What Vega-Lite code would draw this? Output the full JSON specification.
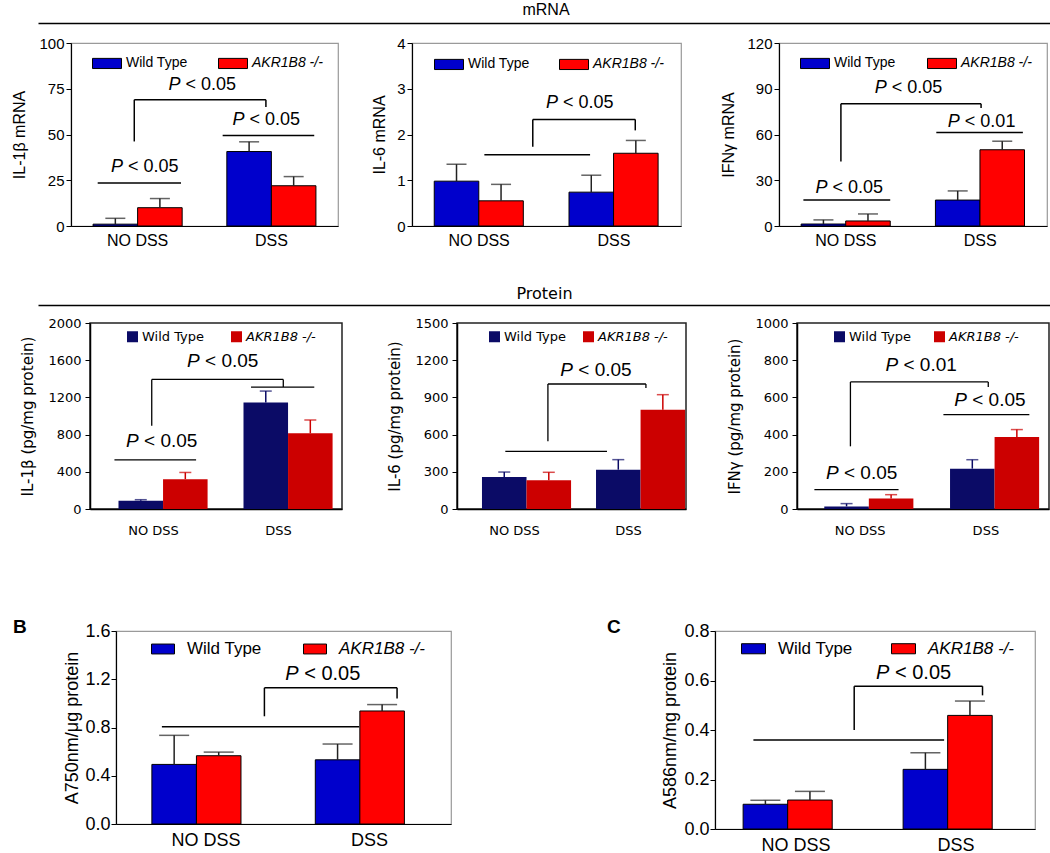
{
"$schema": "https://vega.github.io/schema/vega-lite/v6.json",
"padding": 0,
"background": "white",
"config": {
  "font": "Liberation Sans",
  "axis": {"grid": false, "labelColor": "#000", "titleColor": "#000", "tickColor": "#000", "domainColor": "#000", "titleFontWeight": "normal", "labelOverlap": false},
  "legend": {"padding": 0}
},
"spacing": 0,
"bounds": "flush",
"resolve": {"scale": {"color": "independent"}, "legend": {"color": "independent"}},
"vconcat": [
 {"width": 1, "height": 23, "data": {"values": [{"a": 0}]}, "mark": {"type": "point", "opacity": 0}, "view": {"stroke": null}},
 {"spacing": 0, "bounds": "flush", "hconcat": [
   {"width": 35, "height": 1, "data": {"values": [{"a": 0}]}, "mark": {"type": "point", "opacity": 0}, "view": {"stroke": null}},
   {"width": 1015, "height": 1, "data": {"values": [{"u": 0}]}, "mark": {"type": "point", "opacity": 0}, "view": {"stroke": null},
    "encoding": {"x": {"field": "u", "type": "quantitative", "scale": {"domain": [0, 1]}, "axis": {"orient": "top", "ticks": false, "labels": false, "domainWidth": 1.5, "title": "mRNA", "titleFont": "Liberation Sans", "titleFontSize": 16, "titlePadding": 6}}}}
 ]},
 {"width": 1, "height": 20, "data": {"values": [{"a": 0}]}, "mark": {"type": "point", "opacity": 0}, "view": {"stroke": null}},
 {"spacing": 0, "bounds": "flush",
  "resolve": {"scale": {"color": "independent"}, "legend": {"color": "independent"}},
  "hconcat": [
   {"width": 68, "height": 183, "data": {"values": [{"a": 0}]}, "mark": {"type": "point", "opacity": 0}, "view": {"stroke": null}},
   {"width": 267, "height": 183, "view": {"stroke": "#9a9a9a", "strokeWidth": 1.2},
    "layer": [
     {"data": {"values": [
       {"g": "NO DSS", "s": "Wild Type", "v": 1, "hi": 4.2},
       {"g": "NO DSS", "s": "AKR1B8 -/-", "v": 10, "hi": 15},
       {"g": "DSS", "s": "Wild Type", "v": 40.7, "hi": 46},
       {"g": "DSS", "s": "AKR1B8 -/-", "v": 22, "hi": 27}]},
      "encoding": {
       "x": {"field": "g", "type": "nominal", "scale": {"domain": ["NO DSS", "DSS"], "paddingInner": 0.334, "paddingOuter": 0.165}, "axis": {"title": null, "labelAngle": 0, "ticks": false, "domainWidth": 1.2, "labelFont": "Liberation Sans", "labelFontSize": 16, "labelPadding": 6}},
       "xOffset": {"field": "s", "type": "nominal", "scale": {"domain": ["Wild Type", "AKR1B8 -/-"], "paddingInner": 0, "paddingOuter": 0}}},
      "layer": [
       {"mark": {"type": "bar", "stroke": "#000", "strokeWidth": 1},
        "encoding": {
         "y": {"field": "v", "type": "quantitative", "scale": {"domain": [0, 100], "nice": false}, "axis": {"title": "IL-1β mRNA", "values": [0, 25, 50, 75, 100], "tickCount": 10, "format": "d", "domainWidth": 1.2, "tickSize": 5, "labelFont": "Liberation Sans", "labelFontSize": 15, "labelPadding": 2, "titleFont": "Liberation Sans", "titleFontSize": 16, "titlePadding": 11}},
         "color": {"field": "s", "type": "nominal", "scale": {"domain": ["Wild Type", "AKR1B8 -/-"], "range": ["#0000CC", "#FF0000"]},
          "legend": {"title": null, "orient": "none", "legendX": 21, "legendY": 5, "direction": "horizontal", "symbolType": "M-1,-0.35H1V0.35H-1Z", "symbolSize": 841, "symbolStrokeColor": "#000", "symbolStrokeWidth": 1, "labelFont": "Liberation Sans", "labelFontSize": 14, "labelColor": "#000", "labelOffset": 4, "columnPadding": 28, "padding": 0, "encode": {"labels": {"update": {"fontStyle": {"signal": "datum.label === 'AKR1B8 -/-' ? 'italic' : 'normal'"}}}}}}}},
       {"mark": {"type": "rule", "color": "#222", "strokeWidth": 1.5}, "encoding": {"y": {"field": "v", "type": "quantitative"}, "y2": {"field": "hi"}}},
       {"mark": {"type": "tick", "color": "#222", "size": 20, "thickness": 1.5}, "encoding": {"y": {"field": "hi", "type": "quantitative"}}}
      ]},
     {"data": {"values": [
       {"x": 0.100, "x2": 0.412, "y": 23.5, "y2": 23.5},
       {"x": 0.568, "x2": 0.911, "y": 49.5, "y2": 49.5},
       {"x": 0.237, "x2": 0.237, "y": 46.2, "y2": 69},
       {"x": 0.237, "x2": 0.730, "y": 69, "y2": 69},
       {"x": 0.730, "x2": 0.730, "y": 69, "y2": 65}]},
      "mark": {"type": "rule", "color": "#000", "strokeWidth": 1.5},
      "encoding": {"x": {"field": "x", "type": "quantitative", "scale": {"domain": [0, 1]}, "axis": null}, "x2": {"field": "x2"}, "y": {"field": "y", "type": "quantitative"}, "y2": {"field": "y2"}}},
     {"data": {"values": [
       {"x": 0.150, "y": 32, "t": "< 0.05"},
       {"x": 0.605, "y": 57.7, "t": "< 0.05"},
       {"x": 0.365, "y": 77.2, "t": "< 0.05"}]},
      "encoding": {"x": {"field": "x", "type": "quantitative", "scale": {"domain": [0, 1]}, "axis": null}, "y": {"field": "y", "type": "quantitative"}},
      "layer": [
       {"mark": {"type": "text", "text": "P", "fontStyle": "italic", "align": "left", "baseline": "middle", "font": "Liberation Sans", "fontSize": 18}},
       {"mark": {"type": "text", "align": "left", "baseline": "middle", "font": "Liberation Sans", "fontSize": 18, "dx": 17}, "encoding": {"text": {"field": "t"}}}
      ]}
    ],
    "resolve": {"scale": {"x": "independent"}}},
   {"width": 74, "height": 183, "data": {"values": [{"a": 0}]}, "mark": {"type": "point", "opacity": 0}, "view": {"stroke": null}},
   {"width": 269, "height": 183, "view": {"stroke": "#9a9a9a", "strokeWidth": 1.2},
    "layer": [
     {"data": {"values": [
       {"g": "NO DSS", "s": "Wild Type", "v": 0.98, "hi": 1.35},
       {"g": "NO DSS", "s": "AKR1B8 -/-", "v": 0.55, "hi": 0.91},
       {"g": "DSS", "s": "Wild Type", "v": 0.74, "hi": 1.11},
       {"g": "DSS", "s": "AKR1B8 -/-", "v": 1.59, "hi": 1.87}]},
      "encoding": {
       "x": {"field": "g", "type": "nominal", "scale": {"domain": ["NO DSS", "DSS"], "paddingInner": 0.334, "paddingOuter": 0.165}, "axis": {"title": null, "labelAngle": 0, "ticks": false, "domainWidth": 1.2, "labelFont": "Liberation Sans", "labelFontSize": 16, "labelPadding": 6}},
       "xOffset": {"field": "s", "type": "nominal", "scale": {"domain": ["Wild Type", "AKR1B8 -/-"], "paddingInner": 0, "paddingOuter": 0}}},
      "layer": [
       {"mark": {"type": "bar", "stroke": "#000", "strokeWidth": 1},
        "encoding": {
         "y": {"field": "v", "type": "quantitative", "scale": {"domain": [0, 4], "nice": false}, "axis": {"title": "IL-6 mRNA", "values": [0, 1, 2, 3, 4], "tickCount": 10, "format": "d", "domainWidth": 1.2, "tickSize": 5, "labelFont": "Liberation Sans", "labelFontSize": 15, "labelPadding": 2, "titleFont": "Liberation Sans", "titleFontSize": 16, "titlePadding": 9}},
         "color": {"field": "s", "type": "nominal", "scale": {"domain": ["Wild Type", "AKR1B8 -/-"], "range": ["#0000CC", "#FF0000"]},
          "legend": {"title": null, "orient": "none", "legendX": 22, "legendY": 6, "direction": "horizontal", "symbolType": "M-1,-0.35H1V0.35H-1Z", "symbolSize": 841, "symbolStrokeColor": "#000", "symbolStrokeWidth": 1, "labelFont": "Liberation Sans", "labelFontSize": 14, "labelColor": "#000", "labelOffset": 4, "columnPadding": 27, "padding": 0, "encode": {"labels": {"update": {"fontStyle": {"signal": "datum.label === 'AKR1B8 -/-' ? 'italic' : 'normal'"}}}}}}}},
       {"mark": {"type": "rule", "color": "#222", "strokeWidth": 1.5}, "encoding": {"y": {"field": "v", "type": "quantitative"}, "y2": {"field": "hi"}}},
       {"mark": {"type": "tick", "color": "#222", "size": 20, "thickness": 1.5}, "encoding": {"y": {"field": "hi", "type": "quantitative"}}}
      ]},
     {"data": {"values": [
       {"x": 0.269, "x2": 0.662, "y": 1.56, "y2": 1.56},
       {"x": 0.449, "x2": 0.449, "y": 1.73, "y2": 2.33},
       {"x": 0.449, "x2": 0.830, "y": 2.33, "y2": 2.33},
       {"x": 0.830, "x2": 0.830, "y": 2.33, "y2": 2.09}]},
      "mark": {"type": "rule", "color": "#000", "strokeWidth": 1.5},
      "encoding": {"x": {"field": "x", "type": "quantitative", "scale": {"domain": [0, 1]}, "axis": null}, "x2": {"field": "x2"}, "y": {"field": "y", "type": "quantitative"}, "y2": {"field": "y2"}}},
     {"data": {"values": [
       {"x": 0.498, "y": 2.68, "t": "< 0.05"}]},
      "encoding": {"x": {"field": "x", "type": "quantitative", "scale": {"domain": [0, 1]}, "axis": null}, "y": {"field": "y", "type": "quantitative"}},
      "layer": [
       {"mark": {"type": "text", "text": "P", "fontStyle": "italic", "align": "left", "baseline": "middle", "font": "Liberation Sans", "fontSize": 18}},
       {"mark": {"type": "text", "align": "left", "baseline": "middle", "font": "Liberation Sans", "fontSize": 18, "dx": 17}, "encoding": {"text": {"field": "t"}}}
      ]}
    ],
    "resolve": {"scale": {"x": "independent"}}},
   {"width": 98, "height": 183, "data": {"values": [{"a": 0}]}, "mark": {"type": "point", "opacity": 0}, "view": {"stroke": null}},
   {"width": 268, "height": 183, "view": {"stroke": "#9a9a9a", "strokeWidth": 1.2},
    "layer": [
     {"data": {"values": [
       {"g": "NO DSS", "s": "Wild Type", "v": 1.3, "hi": 4},
       {"g": "NO DSS", "s": "AKR1B8 -/-", "v": 3.3, "hi": 7.9},
       {"g": "DSS", "s": "Wild Type", "v": 17, "hi": 23},
       {"g": "DSS", "s": "AKR1B8 -/-", "v": 50, "hi": 55.6}]},
      "encoding": {
       "x": {"field": "g", "type": "nominal", "scale": {"domain": ["NO DSS", "DSS"], "paddingInner": 0.334, "paddingOuter": 0.165}, "axis": {"title": null, "labelAngle": 0, "ticks": false, "domainWidth": 1.2, "labelFont": "Liberation Sans", "labelFontSize": 16, "labelPadding": 6}},
       "xOffset": {"field": "s", "type": "nominal", "scale": {"domain": ["Wild Type", "AKR1B8 -/-"], "paddingInner": 0, "paddingOuter": 0}}},
      "layer": [
       {"mark": {"type": "bar", "stroke": "#000", "strokeWidth": 1},
        "encoding": {
         "y": {"field": "v", "type": "quantitative", "scale": {"domain": [0, 120], "nice": false}, "axis": {"title": "IFNγ mRNA", "values": [0, 30, 60, 90, 120], "tickCount": 10, "format": "d", "domainWidth": 1.2, "tickSize": 5, "labelFont": "Liberation Sans", "labelFontSize": 15, "labelPadding": 2, "titleFont": "Liberation Sans", "titleFontSize": 16, "titlePadding": 10}},
         "color": {"field": "s", "type": "nominal", "scale": {"domain": ["Wild Type", "AKR1B8 -/-"], "range": ["#0000CC", "#FF0000"]},
          "legend": {"title": null, "orient": "none", "legendX": 21, "legendY": 5, "direction": "horizontal", "symbolType": "M-1,-0.35H1V0.35H-1Z", "symbolSize": 841, "symbolStrokeColor": "#000", "symbolStrokeWidth": 1, "labelFont": "Liberation Sans", "labelFontSize": 14, "labelColor": "#000", "labelOffset": 4, "columnPadding": 29, "padding": 0, "encode": {"labels": {"update": {"fontStyle": {"signal": "datum.label === 'AKR1B8 -/-' ? 'italic' : 'normal'"}}}}}}}},
       {"mark": {"type": "rule", "color": "#222", "strokeWidth": 1.5}, "encoding": {"y": {"field": "v", "type": "quantitative"}, "y2": {"field": "hi"}}},
       {"mark": {"type": "tick", "color": "#222", "size": 20, "thickness": 1.5}, "encoding": {"y": {"field": "hi", "type": "quantitative"}}}
      ]},
     {"data": {"values": [
       {"x": 0.091, "x2": 0.415, "y": 17, "y2": 17},
       {"x": 0.587, "x2": 0.910, "y": 61.3, "y2": 61.3},
       {"x": 0.231, "x2": 0.231, "y": 42.3, "y2": 80.1},
       {"x": 0.231, "x2": 0.754, "y": 80.1, "y2": 80.1},
       {"x": 0.754, "x2": 0.754, "y": 80.1, "y2": 77.3}]},
      "mark": {"type": "rule", "color": "#000", "strokeWidth": 1.5},
      "encoding": {"x": {"field": "x", "type": "quantitative", "scale": {"domain": [0, 1]}, "axis": null}, "x2": {"field": "x2"}, "y": {"field": "y", "type": "quantitative"}, "y2": {"field": "y2"}}},
     {"data": {"values": [
       {"x": 0.136, "y": 25.2, "t": "< 0.05"},
       {"x": 0.630, "y": 68.5, "t": "< 0.01"},
       {"x": 0.357, "y": 90.2, "t": "< 0.05"}]},
      "encoding": {"x": {"field": "x", "type": "quantitative", "scale": {"domain": [0, 1]}, "axis": null}, "y": {"field": "y", "type": "quantitative"}},
      "layer": [
       {"mark": {"type": "text", "text": "P", "fontStyle": "italic", "align": "left", "baseline": "middle", "font": "Liberation Sans", "fontSize": 18}},
       {"mark": {"type": "text", "align": "left", "baseline": "middle", "font": "Liberation Sans", "fontSize": 18, "dx": 17}, "encoding": {"text": {"field": "t"}}}
      ]}
    ],
    "resolve": {"scale": {"x": "independent"}}}
 ]},
 {"width": 1, "height": 262, "data": {"values": [{"a": 0}]}, "mark": {"type": "point", "opacity": 0}, "view": {"stroke": null}},
 {"spacing": 0, "bounds": "flush", "hconcat": [
   {"width": 35, "height": 1, "data": {"values": [{"a": 0}]}, "mark": {"type": "point", "opacity": 0}, "view": {"stroke": null}},
   {"width": 1012, "height": 1, "data": {"values": [{"u": 0}]}, "mark": {"type": "point", "opacity": 0}, "view": {"stroke": null},
    "encoding": {"x": {"field": "u", "type": "quantitative", "scale": {"domain": [0, 1]}, "axis": {"orient": "top", "ticks": false, "labels": false, "domainWidth": 1.5, "title": "Protein", "titleFont": "DejaVu Sans", "titleFontSize": 16, "titlePadding": 4}}}}
 ]},
 {"width": 1, "height": 18, "data": {"values": [{"a": 0}]}, "mark": {"type": "point", "opacity": 0}, "view": {"stroke": null}},
 {"spacing": 0, "bounds": "flush",
  "resolve": {"scale": {"color": "independent"}, "legend": {"color": "independent"}},
  "hconcat": [
   {"width": 87, "height": 186, "data": {"values": [{"a": 0}]}, "mark": {"type": "point", "opacity": 0}, "view": {"stroke": null}},
   {"width": 252, "height": 186, "view": {"stroke": "#222", "strokeWidth": 1.5},
    "layer": [
     {"data": {"values": [
       {"g": "NO DSS", "s": "Wild Type", "v": 89, "hi": 100},
       {"g": "NO DSS", "s": "AKR1B8 -/-", "v": 321, "hi": 393},
       {"g": "DSS", "s": "Wild Type", "v": 1146, "hi": 1268},
       {"g": "DSS", "s": "AKR1B8 -/-", "v": 814, "hi": 957}]},
      "encoding": {
       "x": {"field": "g", "type": "nominal", "scale": {"domain": ["NO DSS", "DSS"], "paddingInner": 0.44, "paddingOuter": 0.228}, "axis": {"title": null, "labelAngle": 0, "ticks": false, "domainWidth": 1.5, "labelFont": "DejaVu Sans", "labelFontSize": 13, "labelPadding": 15}},
       "xOffset": {"field": "s", "type": "nominal", "scale": {"domain": ["Wild Type", "AKR1B8 -/-"], "paddingInner": 0, "paddingOuter": 0}}},
      "layer": [
       {"mark": {"type": "bar"},
        "encoding": {
         "y": {"field": "v", "type": "quantitative", "scale": {"domain": [0, 2000], "nice": false}, "axis": {"title": "IL-1β (pg/mg protein)", "values": [0, 400, 800, 1200, 1600, 2000], "tickCount": 10, "format": "d", "domainWidth": 1.5, "tickSize": 5, "labelFont": "DejaVu Sans", "labelFontSize": 13, "labelPadding": 4, "titleFont": "DejaVu Sans", "titleFontSize": 15, "titlePadding": 12}},
         "color": {"field": "s", "type": "nominal", "scale": {"domain": ["Wild Type", "AKR1B8 -/-"], "range": ["#0B0B66", "#CC0000"]},
          "legend": {"title": null, "orient": "none", "legendX": 36, "legendY": 7, "direction": "horizontal", "symbolType": "square", "symbolSize": 121, "symbolStrokeWidth": 0, "labelFont": "DejaVu Sans", "labelFontSize": 13, "labelColor": "#000", "labelOffset": 3, "columnPadding": 25, "padding": 0, "encode": {"labels": {"update": {"fontStyle": {"signal": "datum.label === 'AKR1B8 -/-' ? 'italic' : 'normal'"}}}}}}}},
       {"mark": {"type": "rule", "strokeWidth": 1.5}, "encoding": {"y": {"field": "v", "type": "quantitative"}, "y2": {"field": "hi"}, "color": {"condition": {"test": "datum.s === 'Wild Type'", "value": "#0B0B66"}, "value": "#CC0000"}}},
       {"mark": {"type": "tick", "size": 12, "thickness": 1.5}, "encoding": {"y": {"field": "hi", "type": "quantitative"}, "color": {"condition": {"test": "datum.s === 'Wild Type'", "value": "#0B0B66"}, "value": "#CC0000"}}}
      ]},
     {"data": {"values": [
       {"x": 0.097, "x2": 0.421, "y": 529, "y2": 529},
       {"x": 0.639, "x2": 0.890, "y": 1311, "y2": 1311},
       {"x": 0.245, "x2": 0.245, "y": 896, "y2": 1393},
       {"x": 0.245, "x2": 0.767, "y": 1393, "y2": 1393},
       {"x": 0.767, "x2": 0.767, "y": 1393, "y2": 1311}]},
      "mark": {"type": "rule", "color": "#000", "strokeWidth": 1.3},
      "encoding": {"x": {"field": "x", "type": "quantitative", "scale": {"domain": [0, 1]}, "axis": null}, "x2": {"field": "x2"}, "y": {"field": "y", "type": "quantitative"}, "y2": {"field": "y2"}}},
     {"data": {"values": [
       {"x": 0.143, "y": 732, "t": "< 0.05"},
       {"x": 0.385, "y": 1589, "t": "< 0.05"}]},
      "encoding": {"x": {"field": "x", "type": "quantitative", "scale": {"domain": [0, 1]}, "axis": null}, "y": {"field": "y", "type": "quantitative"}},
      "layer": [
       {"mark": {"type": "text", "text": "P", "fontStyle": "italic", "align": "left", "baseline": "middle", "font": "Liberation Sans", "fontSize": 19}},
       {"mark": {"type": "text", "align": "left", "baseline": "middle", "font": "Liberation Sans", "fontSize": 19, "dx": 18}, "encoding": {"text": {"field": "t"}}}
      ]}
    ],
    "resolve": {"scale": {"x": "independent"}}},
   {"width": 115, "height": 186, "data": {"values": [{"a": 0}]}, "mark": {"type": "point", "opacity": 0}, "view": {"stroke": null}},
   {"width": 229, "height": 186, "view": {"stroke": "#222", "strokeWidth": 1.5},
    "layer": [
     {"data": {"values": [
       {"g": "NO DSS", "s": "Wild Type", "v": 258, "hi": 298},
       {"g": "NO DSS", "s": "AKR1B8 -/-", "v": 231, "hi": 296},
       {"g": "DSS", "s": "Wild Type", "v": 317, "hi": 398},
       {"g": "DSS", "s": "AKR1B8 -/-", "v": 801, "hi": 922}]},
      "encoding": {
       "x": {"field": "g", "type": "nominal", "scale": {"domain": ["NO DSS", "DSS"], "paddingInner": 0.43, "paddingOuter": 0.219}, "axis": {"title": null, "labelAngle": 0, "ticks": false, "domainWidth": 1.5, "labelFont": "DejaVu Sans", "labelFontSize": 13, "labelPadding": 15}},
       "xOffset": {"field": "s", "type": "nominal", "scale": {"domain": ["Wild Type", "AKR1B8 -/-"], "paddingInner": 0, "paddingOuter": 0}}},
      "layer": [
       {"mark": {"type": "bar"},
        "encoding": {
         "y": {"field": "v", "type": "quantitative", "scale": {"domain": [0, 1500], "nice": false}, "axis": {"title": "IL-6 (pg/mg protein)", "values": [0, 300, 600, 900, 1200, 1500], "tickCount": 10, "format": "d", "domainWidth": 1.5, "tickSize": 5, "labelFont": "DejaVu Sans", "labelFontSize": 13, "labelPadding": 4, "titleFont": "DejaVu Sans", "titleFontSize": 15, "titlePadding": 12}},
         "color": {"field": "s", "type": "nominal", "scale": {"domain": ["Wild Type", "AKR1B8 -/-"], "range": ["#0B0B66", "#CC0000"]},
          "legend": {"title": null, "orient": "none", "legendX": 31, "legendY": 7, "direction": "horizontal", "symbolType": "square", "symbolSize": 121, "symbolStrokeWidth": 0, "labelFont": "DejaVu Sans", "labelFontSize": 13, "labelColor": "#000", "labelOffset": 3, "columnPadding": 15, "padding": 0, "encode": {"labels": {"update": {"fontStyle": {"signal": "datum.label === 'AKR1B8 -/-' ? 'italic' : 'normal'"}}}}}}}},
       {"mark": {"type": "rule", "strokeWidth": 1.5}, "encoding": {"y": {"field": "v", "type": "quantitative"}, "y2": {"field": "hi"}, "color": {"condition": {"test": "datum.s === 'Wild Type'", "value": "#0B0B66"}, "value": "#CC0000"}}},
       {"mark": {"type": "tick", "size": 12, "thickness": 1.5}, "encoding": {"y": {"field": "hi", "type": "quantitative"}, "color": {"condition": {"test": "datum.s === 'Wild Type'", "value": "#0B0B66"}, "value": "#CC0000"}}}
      ]},
     {"data": {"values": [
       {"x": 0.211, "x2": 0.655, "y": 465, "y2": 465},
       {"x": 0.397, "x2": 0.397, "y": 546, "y2": 1008},
       {"x": 0.397, "x2": 0.825, "y": 1008, "y2": 1008},
       {"x": 0.825, "x2": 0.825, "y": 1008, "y2": 976}]},
      "mark": {"type": "rule", "color": "#000", "strokeWidth": 1.3},
      "encoding": {"x": {"field": "x", "type": "quantitative", "scale": {"domain": [0, 1]}, "axis": null}, "x2": {"field": "x2"}, "y": {"field": "y", "type": "quantitative"}, "y2": {"field": "y2"}}},
     {"data": {"values": [
       {"x": 0.451, "y": 1118, "t": "< 0.05"}]},
      "encoding": {"x": {"field": "x", "type": "quantitative", "scale": {"domain": [0, 1]}, "axis": null}, "y": {"field": "y", "type": "quantitative"}},
      "layer": [
       {"mark": {"type": "text", "text": "P", "fontStyle": "italic", "align": "left", "baseline": "middle", "font": "Liberation Sans", "fontSize": 19}},
       {"mark": {"type": "text", "align": "left", "baseline": "middle", "font": "Liberation Sans", "fontSize": 19, "dx": 18}, "encoding": {"text": {"field": "t"}}}
      ]}
    ],
    "resolve": {"scale": {"x": "independent"}}},
   {"width": 111, "height": 186, "data": {"values": [{"a": 0}]}, "mark": {"type": "point", "opacity": 0}, "view": {"stroke": null}},
   {"width": 252, "height": 186, "view": {"stroke": "#222", "strokeWidth": 1.5},
    "layer": [
     {"data": {"values": [
       {"g": "NO DSS", "s": "Wild Type", "v": 14, "hi": 29},
       {"g": "NO DSS", "s": "AKR1B8 -/-", "v": 56, "hi": 77},
       {"g": "DSS", "s": "Wild Type", "v": 217, "hi": 265},
       {"g": "DSS", "s": "AKR1B8 -/-", "v": 387, "hi": 427}]},
      "encoding": {
       "x": {"field": "g", "type": "nominal", "scale": {"domain": ["NO DSS", "DSS"], "paddingInner": 0.43, "paddingOuter": 0.217}, "axis": {"title": null, "labelAngle": 0, "ticks": false, "domainWidth": 1.5, "labelFont": "DejaVu Sans", "labelFontSize": 13, "labelPadding": 15}},
       "xOffset": {"field": "s", "type": "nominal", "scale": {"domain": ["Wild Type", "AKR1B8 -/-"], "paddingInner": 0, "paddingOuter": 0}}},
      "layer": [
       {"mark": {"type": "bar"},
        "encoding": {
         "y": {"field": "v", "type": "quantitative", "scale": {"domain": [0, 1000], "nice": false}, "axis": {"title": "IFNγ (pg/mg protein)", "values": [0, 200, 400, 600, 800, 1000], "tickCount": 10, "format": "d", "domainWidth": 1.5, "tickSize": 5, "labelFont": "DejaVu Sans", "labelFontSize": 13, "labelPadding": 4, "titleFont": "DejaVu Sans", "titleFontSize": 15, "titlePadding": 12}},
         "color": {"field": "s", "type": "nominal", "scale": {"domain": ["Wild Type", "AKR1B8 -/-"], "range": ["#0B0B66", "#CC0000"]},
          "legend": {"title": null, "orient": "none", "legendX": 36, "legendY": 7, "direction": "horizontal", "symbolType": "square", "symbolSize": 121, "symbolStrokeWidth": 0, "labelFont": "DejaVu Sans", "labelFontSize": 13, "labelColor": "#000", "labelOffset": 3, "columnPadding": 21, "padding": 0, "encode": {"labels": {"update": {"fontStyle": {"signal": "datum.label === 'AKR1B8 -/-' ? 'italic' : 'normal'"}}}}}}}},
       {"mark": {"type": "rule", "strokeWidth": 1.5}, "encoding": {"y": {"field": "v", "type": "quantitative"}, "y2": {"field": "hi"}, "color": {"condition": {"test": "datum.s === 'Wild Type'", "value": "#0B0B66"}, "value": "#CC0000"}}},
       {"mark": {"type": "tick", "size": 12, "thickness": 1.5}, "encoding": {"y": {"field": "hi", "type": "quantitative"}, "color": {"condition": {"test": "datum.s === 'Wild Type'", "value": "#0B0B66"}, "value": "#CC0000"}}}
      ]},
     {"data": {"values": [
       {"x": 0.069, "x2": 0.403, "y": 104, "y2": 104},
       {"x": 0.581, "x2": 0.922, "y": 507, "y2": 507},
       {"x": 0.212, "x2": 0.212, "y": 337, "y2": 683},
       {"x": 0.212, "x2": 0.759, "y": 683, "y2": 683},
       {"x": 0.759, "x2": 0.759, "y": 683, "y2": 656}]},
      "mark": {"type": "rule", "color": "#000", "strokeWidth": 1.3},
      "encoding": {"x": {"field": "x", "type": "quantitative", "scale": {"domain": [0, 1]}, "axis": null}, "x2": {"field": "x2"}, "y": {"field": "y", "type": "quantitative"}, "y2": {"field": "y2"}}},
     {"data": {"values": [
       {"x": 0.115, "y": 194, "t": "< 0.05"},
       {"x": 0.624, "y": 588, "t": "< 0.05"},
       {"x": 0.351, "y": 776, "t": "< 0.01"}]},
      "encoding": {"x": {"field": "x", "type": "quantitative", "scale": {"domain": [0, 1]}, "axis": null}, "y": {"field": "y", "type": "quantitative"}},
      "layer": [
       {"mark": {"type": "text", "text": "P", "fontStyle": "italic", "align": "left", "baseline": "middle", "font": "Liberation Sans", "fontSize": 19}},
       {"mark": {"type": "text", "align": "left", "baseline": "middle", "font": "Liberation Sans", "fontSize": 19, "dx": 18}, "encoding": {"text": {"field": "t"}}}
      ]}
    ],
    "resolve": {"scale": {"x": "independent"}}}
 ]},
 {"width": 1, "height": 308, "data": {"values": [{"a": 0}]}, "mark": {"type": "point", "opacity": 0}, "view": {"stroke": null}},
 {"spacing": 0, "bounds": "flush",
  "resolve": {"scale": {"color": "independent"}, "legend": {"color": "independent"}},
  "hconcat": [
   {"width": 113, "height": 198, "data": {"values": [{"a": 0}]}, "mark": {"type": "point", "opacity": 0}, "view": {"stroke": null}},
   {"width": 335, "height": 193, "view": {"stroke": "#9a9a9a", "strokeWidth": 1.2},
    "title": {"text": "B", "anchor": "start", "frame": "group", "dx": -103, "dy": 28, "offset": -2, "baseline": "alphabetic", "font": "Liberation Sans", "fontSize": 19, "fontWeight": "bold", "color": "#000"},
    "layer": [
     {"data": {"values": [
       {"g": "NO DSS", "s": "Wild Type", "v": 0.494, "hi": 0.735},
       {"g": "NO DSS", "s": "AKR1B8 -/-", "v": 0.566, "hi": 0.596},
       {"g": "DSS", "s": "Wild Type", "v": 0.532, "hi": 0.663},
       {"g": "DSS", "s": "AKR1B8 -/-", "v": 0.937, "hi": 0.99}]},
      "encoding": {
       "x": {"field": "g", "type": "nominal", "scale": {"domain": ["NO DSS", "DSS"], "paddingInner": 0.338, "paddingOuter": 0.194, "align": 0.566}, "axis": {"title": null, "labelAngle": 0, "ticks": false, "domainWidth": 1.2, "labelFont": "Liberation Sans", "labelFontSize": 18, "labelPadding": 7}},
       "xOffset": {"field": "s", "type": "nominal", "scale": {"domain": ["Wild Type", "AKR1B8 -/-"], "paddingInner": 0, "paddingOuter": 0}}},
      "layer": [
       {"mark": {"type": "bar", "stroke": "#000", "strokeWidth": 1},
        "encoding": {
         "y": {"field": "v", "type": "quantitative", "scale": {"domain": [0, 1.6], "nice": false}, "axis": {"title": "A750nm/μg protein", "values": [0, 0.4, 0.8, 1.2, 1.6], "tickCount": 10, "format": ".1f", "domainWidth": 1.2, "tickSize": 5, "labelFont": "Liberation Sans", "labelFontSize": 18, "labelPadding": 1, "titleFont": "Liberation Sans", "titleFontSize": 18, "titlePadding": 3}},
         "color": {"field": "s", "type": "nominal", "scale": {"domain": ["Wild Type", "AKR1B8 -/-"], "range": ["#0000CC", "#FF0000"]},
          "legend": {"title": null, "orient": "none", "legendX": 35, "legendY": 6, "direction": "horizontal", "symbolType": "M-1,-0.43H1V0.43H-1Z", "symbolSize": 529, "symbolStrokeColor": "#000", "symbolStrokeWidth": 1, "labelFont": "Liberation Sans", "labelFontSize": 17, "labelColor": "#000", "labelOffset": 12, "columnPadding": 39, "padding": 0, "encode": {"labels": {"update": {"fontStyle": {"signal": "datum.label === 'AKR1B8 -/-' ? 'italic' : 'normal'"}}}}}}}},
       {"mark": {"type": "rule", "color": "#222", "strokeWidth": 1.5}, "encoding": {"y": {"field": "v", "type": "quantitative"}, "y2": {"field": "hi"}}},
       {"mark": {"type": "tick", "color": "#222", "size": 30, "thickness": 1.5}, "encoding": {"y": {"field": "hi", "type": "quantitative"}}}
      ]},
     {"data": {"values": [
       {"x": 0.137, "x2": 0.726, "y": 0.807, "y2": 0.807},
       {"x": 0.443, "x2": 0.443, "y": 0.893, "y2": 1.129},
       {"x": 0.443, "x2": 0.839, "y": 1.129, "y2": 1.129},
       {"x": 0.839, "x2": 0.839, "y": 1.129, "y2": 1.04}]},
      "mark": {"type": "rule", "color": "#000", "strokeWidth": 1.5},
      "encoding": {"x": {"field": "x", "type": "quantitative", "scale": {"domain": [0, 1]}, "axis": null}, "x2": {"field": "x2"}, "y": {"field": "y", "type": "quantitative"}, "y2": {"field": "y2"}}},
     {"data": {"values": [
       {"x": 0.505, "y": 1.24, "t": "< 0.05"}]},
      "encoding": {"x": {"field": "x", "type": "quantitative", "scale": {"domain": [0, 1]}, "axis": null}, "y": {"field": "y", "type": "quantitative"}},
      "layer": [
       {"mark": {"type": "text", "text": "P", "fontStyle": "italic", "align": "left", "baseline": "middle", "font": "Liberation Sans", "fontSize": 20}},
       {"mark": {"type": "text", "align": "left", "baseline": "middle", "font": "Liberation Sans", "fontSize": 20, "dx": 19}, "encoding": {"text": {"field": "t"}}}
      ]}
    ],
    "resolve": {"scale": {"x": "independent"}}},
   {"width": 264, "height": 198, "data": {"values": [{"a": 0}]}, "mark": {"type": "point", "opacity": 0}, "view": {"stroke": null}},
   {"width": 320, "height": 198, "view": {"stroke": "#9a9a9a", "strokeWidth": 1.2},
    "title": {"text": "C", "anchor": "start", "frame": "group", "dx": -108, "dy": 29, "offset": -1, "baseline": "alphabetic", "font": "Liberation Sans", "fontSize": 19, "fontWeight": "bold", "color": "#000"},
    "layer": [
     {"data": {"values": [
       {"g": "NO DSS", "s": "Wild Type", "v": 0.1, "hi": 0.116},
       {"g": "NO DSS", "s": "AKR1B8 -/-", "v": 0.117, "hi": 0.152},
       {"g": "DSS", "s": "Wild Type", "v": 0.241, "hi": 0.308},
       {"g": "DSS", "s": "AKR1B8 -/-", "v": 0.459, "hi": 0.517}]},
      "encoding": {
       "x": {"field": "g", "type": "nominal", "scale": {"domain": ["NO DSS", "DSS"], "paddingInner": 0.338, "paddingOuter": 0.169, "align": 0.52}, "axis": {"title": null, "labelAngle": 0, "ticks": false, "domainWidth": 1.2, "labelFont": "Liberation Sans", "labelFontSize": 18, "labelPadding": 7}},
       "xOffset": {"field": "s", "type": "nominal", "scale": {"domain": ["Wild Type", "AKR1B8 -/-"], "paddingInner": 0, "paddingOuter": 0}}},
      "layer": [
       {"mark": {"type": "bar", "stroke": "#000", "strokeWidth": 1},
        "encoding": {
         "y": {"field": "v", "type": "quantitative", "scale": {"domain": [0, 0.8], "nice": false}, "axis": {"title": "A586nm/mg protein", "values": [0, 0.2, 0.4, 0.6, 0.8], "tickCount": 10, "format": ".1f", "domainWidth": 1.2, "tickSize": 5, "labelFont": "Liberation Sans", "labelFontSize": 18, "labelPadding": 1, "titleFont": "Liberation Sans", "titleFontSize": 18, "titlePadding": 4}},
         "color": {"field": "s", "type": "nominal", "scale": {"domain": ["Wild Type", "AKR1B8 -/-"], "range": ["#0000CC", "#FF0000"]},
          "legend": {"title": null, "orient": "none", "legendX": 26, "legendY": 5, "direction": "horizontal", "symbolType": "M-1,-0.42H1V0.42H-1Z", "symbolSize": 576, "symbolStrokeColor": "#000", "symbolStrokeWidth": 1, "labelFont": "Liberation Sans", "labelFontSize": 17, "labelColor": "#000", "labelOffset": 12, "columnPadding": 36, "padding": 0, "encode": {"labels": {"update": {"fontStyle": {"signal": "datum.label === 'AKR1B8 -/-' ? 'italic' : 'normal'"}}}}}}}},
       {"mark": {"type": "rule", "color": "#222", "strokeWidth": 1.5}, "encoding": {"y": {"field": "v", "type": "quantitative"}, "y2": {"field": "hi"}}},
       {"mark": {"type": "tick", "color": "#222", "size": 30, "thickness": 1.5}, "encoding": {"y": {"field": "hi", "type": "quantitative"}}}
      ]},
     {"data": {"values": [
       {"x": 0.120, "x2": 0.716, "y": 0.36, "y2": 0.36},
       {"x": 0.435, "x2": 0.435, "y": 0.4, "y2": 0.577},
       {"x": 0.435, "x2": 0.836, "y": 0.577, "y2": 0.577},
       {"x": 0.836, "x2": 0.836, "y": 0.577, "y2": 0.54}]},
      "mark": {"type": "rule", "color": "#000", "strokeWidth": 1.5},
      "encoding": {"x": {"field": "x", "type": "quantitative", "scale": {"domain": [0, 1]}, "axis": null}, "x2": {"field": "x2"}, "y": {"field": "y", "type": "quantitative"}, "y2": {"field": "y2"}}},
     {"data": {"values": [
       {"x": 0.503, "y": 0.631, "t": "< 0.05"}]},
      "encoding": {"x": {"field": "x", "type": "quantitative", "scale": {"domain": [0, 1]}, "axis": null}, "y": {"field": "y", "type": "quantitative"}},
      "layer": [
       {"mark": {"type": "text", "text": "P", "fontStyle": "italic", "align": "left", "baseline": "middle", "font": "Liberation Sans", "fontSize": 20}},
       {"mark": {"type": "text", "align": "left", "baseline": "middle", "font": "Liberation Sans", "fontSize": 20, "dx": 19}, "encoding": {"text": {"field": "t"}}}
      ]}
    ],
    "resolve": {"scale": {"x": "independent"}}}
 ]}
]
}
